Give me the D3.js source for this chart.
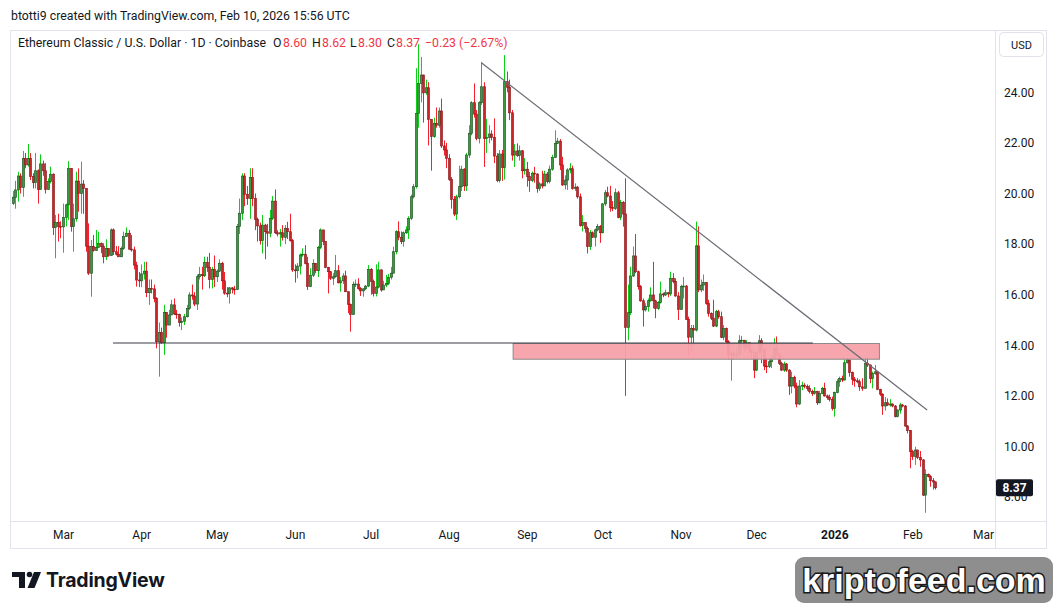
<!DOCTYPE html>
<html>
<head>
<meta charset="utf-8">
<script src="https://cdn.jsdelivr.net/npm/d3@7"></script>
<style>
body { margin: 0; background: #ffffff; }
svg text { font-family: Roboto, "Liberation Sans", sans-serif; }
</style>
</head>
<body>
<div id="chart"></div>
<script>
// ETC/USD daily candles (Coinbase).
// first candle is 2025-02-09, one candle per day, last is 2026-02-10
var firstDay = Date.UTC(2025, 1, 9);
var firstOpen = 19.6;

var closes = [
  19.85,
  20.14, 20.69, 20.24, 21.39, 21.13, 21.39, 20.67, 20.43, 20.9, 20.16, 21.17, 20.9, 20.16, 20.47, 20.76, 18.66, 18.86, 18.7, 18.68, 19.05, 19.55, 20.99, 18.69, 19.0, 20.49, 20.0, 20.37, 20.2, 17.92, 16.85, 17.9, 17.75, 17.87, 18.03, 17.9, 17.5, 17.83, 17.55, 18.56, 17.7, 17.6, 17.5, 17.83, 18.3, 18.43, 17.8, 17.77,
  17.17, 16.58, 16.55, 16.82, 16.93, 16.08, 16.25, 16.23, 15.85, 14.14, 14.5, 14.1, 15.3, 14.8, 15.2, 15.6, 15.24, 15.22, 14.9, 14.95, 15.13, 15.46, 15.99, 15.95, 15.63, 16.71, 16.8, 16.75, 17.28, 17.08, 16.6, 17.0, 16.71, 16.93, 17.24, 16.55, 16.06, 16.05, 16.27, 16.22, 16.2, 18.69, 19.22, 20.69, 19.97, 19.8, 20.64,
  19.8, 18.98, 18.72, 18.14, 18.75, 18.49, 18.43, 19.02, 19.7, 18.45, 18.4, 18.45, 18.27, 18.62, 18.49, 18.14, 16.98, 16.95, 17.13, 17.57, 17.6, 17.24, 16.32, 16.77, 17.24, 16.95, 17.87, 18.56, 18.1, 17.08, 16.91, 16.65, 16.71, 16.95, 16.47, 16.55, 16.74, 16.12, 15.62, 15.22, 16.41, 16.42, 16.25, 16.15, 16.23, 16.34, 17.0, 16.52,
  16.05, 16.3, 16.98, 16.19, 16.38, 16.45, 16.69, 16.85, 17.7, 18.49, 18.27, 18.1, 18.45, 18.56, 19.02, 19.87, 20.27, 23.17, 24.35, 24.68, 23.98, 24.18, 22.93, 22.25, 22.77, 22.7, 23.26, 21.88, 21.72, 21.39, 20.56, 19.77, 19.19, 19.87, 20.27, 20.96, 20.3, 21.52, 22.38, 23.59, 23.14, 22.17, 23.59, 24.22, 22.18, 22.22, 22.35, 22.22,
  21.48, 20.51, 21.56, 21.03, 24.42, 24.2, 23.19, 21.52, 21.68, 21.5, 21.69, 20.9, 20.96, 20.67, 20.51, 20.8, 20.77, 20.2, 20.38, 20.3, 20.77, 20.47, 20.96, 21.43, 21.98, 22.07, 21.13, 20.34, 20.53, 20.93, 20.98, 20.2, 20.25, 19.87, 18.73, 18.85, 18.62, 17.9, 18.45, 18.27, 18.56, 18.69, 18.45, 19.59, 20.03, 19.9, 19.45,
  19.41, 20.03, 19.06, 19.64, 19.19, 14.71, 15.29, 16.74, 17.53, 16.91, 16.32, 15.76, 15.4, 15.53, 15.76, 15.99, 15.76, 15.46, 15.69, 16.03, 15.99, 16.08, 16.03, 16.65, 16.52, 15.95, 15.42, 16.32, 16.34, 15.03, 14.32, 14.67, 14.6, 17.93, 16.19, 16.38, 16.48, 15.66, 15.26, 15.07, 14.76, 15.33, 15.13, 14.32, 14.67, 14.14, 13.62,
  13.68, 13.62, 13.66, 14.18, 14.2, 13.88, 14.1, 13.79, 13.71, 13.02, 13.71, 14.18, 13.81, 13.18, 13.16, 13.35, 13.48, 13.88, 13.66, 13.29, 13.02, 13.26, 13.02, 12.39, 12.73, 12.39, 11.68, 12.39, 12.42, 12.38, 12.3, 12.17, 12.1, 12.17, 11.73, 12.1, 12.3, 12.0, 11.94, 11.86, 11.51, 12.13, 12.56, 12.69, 12.63, 13.31, 13.42, 12.92,
  12.66, 12.6, 12.56, 12.36, 12.3, 13.29, 13.22, 12.69, 12.89, 12.95, 12.26, 12.07, 11.6, 11.73, 11.64, 11.68, 11.6, 11.18, 11.44, 11.64, 11.6, 10.81, 10.63, 9.8, 9.6, 9.86, 9.57, 9.47, 8.08, 8.9, 8.81, 8.65, 8.6, 8.37
];

var highs = [
  20.1,
  20.5, 20.86, 20.8, 21.68, 21.6, 21.96, 21.6, 20.8, 21.6, 20.95, 21.55, 21.3, 21.2, 20.6, 21.06, 20.8, 19.15, 19.2, 18.9, 19.6, 19.6, 21.28, 21.0, 19.6, 20.86, 20.99, 21.26, 20.53, 20.2, 18.82, 18.16, 18.36, 18.56, 18.49, 18.06, 18.03, 18.19, 17.83, 18.62, 18.62, 17.92, 17.92, 17.9, 18.49, 18.66, 18.56, 18.36,
  17.9, 17.3, 16.9, 17.2, 17.3, 17.3, 16.6, 16.6, 16.4, 15.9, 14.9, 14.7, 15.6, 15.3, 15.4, 15.8, 15.85, 15.4, 15.25, 15.1, 15.24, 15.6, 16.1, 16.4, 16.1, 16.8, 17.1, 17.1, 17.5, 17.5, 17.65, 17.1, 17.55, 17.0, 17.4, 17.3, 16.9, 16.3, 16.3, 16.3, 16.35, 18.8, 19.8, 20.8, 20.8, 20.3, 21.0,
  21.0, 20.0, 19.05, 18.85, 19.15, 18.8, 18.8, 19.35, 19.9, 20.16, 18.55, 18.6, 18.75, 18.75, 18.88, 19.2, 18.2, 17.2, 17.25, 17.63, 17.83, 17.96, 17.5, 17.05, 17.4, 17.25, 17.93, 18.62, 18.56, 18.1, 17.1, 16.93, 16.85, 17.57, 17.17, 16.7, 16.85, 16.95, 16.12, 15.65, 16.52, 16.6, 16.65, 16.3, 16.25, 16.38, 17.17, 17.05,
  16.6, 17.2, 17.3, 17.0, 16.55, 16.78, 16.82, 17.1, 17.9, 18.55, 18.9, 18.5, 18.5, 18.7, 19.1, 19.95, 20.38, 24.95, 25.9, 25.4, 24.7, 24.5, 24.4, 22.6, 23.0, 23.4, 23.4, 23.75, 22.1, 22.0, 21.55, 20.65, 19.9, 19.95, 21.1, 21.1, 21.0, 21.6, 22.7, 23.65, 24.35, 23.3, 23.65, 25.2, 24.4, 22.95, 22.7, 22.5,
  22.97, 21.6, 21.72, 21.72, 25.47, 24.82, 24.5, 23.3, 21.95, 21.98, 21.9, 21.72, 21.4, 21.25, 20.85, 20.87, 21.05, 20.8, 20.45, 20.9, 20.9, 20.85, 21.1, 21.53, 22.5, 22.2, 22.15, 21.45, 20.72, 21.0, 21.2, 21.1, 20.4, 20.3, 20.0, 19.15, 18.85, 18.7, 18.56, 18.5, 18.62, 18.8, 18.75, 19.62, 20.14, 20.27, 20.3,
  19.7, 20.2, 20.1, 19.75, 19.7, 20.6, 16.4, 17.1, 17.9, 18.4, 16.95, 16.38, 15.85, 15.66, 15.85, 16.29, 17.3, 15.8, 15.75, 16.52, 16.08, 16.2, 16.1, 16.91, 16.85, 16.65, 16.1, 16.4, 16.7, 16.38, 15.13, 14.8, 14.8, 18.89, 18.7, 16.6, 16.8, 16.5, 15.8, 15.3, 15.8, 15.4, 15.4, 15.33, 14.8, 14.7, 14.2,
  13.75, 13.8, 13.9, 14.4, 14.37, 14.21, 14.2, 14.0, 13.84, 13.75, 13.79, 14.4, 14.28, 13.88, 13.48, 13.5, 13.6, 14.28, 14.35, 13.7, 13.35, 13.35, 13.3, 13.05, 12.96, 12.8, 12.52, 12.63, 12.56, 12.5, 12.45, 12.42, 12.25, 12.35, 12.2, 12.2, 12.36, 12.52, 12.05, 12.05, 11.97, 12.17, 12.66, 12.76, 12.8, 13.44, 13.5, 13.44,
  12.96, 12.75, 12.7, 12.65, 12.7, 13.5, 13.55, 13.25, 12.96, 13.22, 12.96, 12.28, 12.1, 11.95, 11.9, 11.87, 11.7, 11.64, 11.47, 11.73, 11.68, 11.64, 10.85, 10.65, 9.87, 9.99, 9.87, 9.82, 9.5, 9.1, 8.93, 8.87, 8.75, 8.62
];

var lows = [
  19.55,
  19.4, 19.68, 20.0, 19.87, 21.0, 21.06, 20.53, 20.2, 20.2, 19.6, 20.2, 20.7, 20.0, 20.15, 20.4, 18.36, 17.44, 18.1, 18.23, 17.66, 18.7, 18.95, 18.49, 17.7, 18.89, 19.28, 19.2, 19.2, 17.7, 16.78, 15.92, 17.7, 17.77, 17.9, 17.64, 17.24, 17.37, 17.5, 17.64, 17.57, 17.55, 17.5, 17.57, 17.77, 18.29, 17.79, 17.7,
  17.0, 16.32, 16.3, 16.3, 16.6, 15.9, 15.6, 16.05, 15.7, 13.88, 12.76, 14.05, 13.62, 14.3, 14.8, 15.2, 15.2, 15.05, 14.74, 14.6, 14.8, 15.1, 15.4, 15.8, 15.55, 15.4, 16.6, 16.2, 16.7, 16.9, 16.25, 16.25, 16.3, 16.5, 16.9, 16.2, 16.0, 15.9, 15.65, 16.05, 16.0, 16.2, 18.4, 18.95, 19.5, 19.55, 19.0,
  19.5, 18.55, 18.1, 17.98, 17.63, 17.4, 17.9, 18.27, 18.95, 18.4, 18.3, 17.9, 18.14, 18.0, 18.2, 18.1, 16.9, 16.48, 16.65, 16.8, 17.5, 17.2, 16.19, 16.3, 16.7, 16.85, 16.7, 17.8, 17.96, 17.05, 16.05, 16.58, 16.38, 16.67, 16.45, 16.12, 16.42, 16.1, 15.27, 14.54, 15.2, 16.3, 16.2, 15.95, 15.92, 16.18, 16.3, 16.0,
  15.93, 15.93, 16.25, 16.12, 16.19, 16.3, 16.38, 16.6, 16.9, 17.6, 18.15, 18.0, 17.9, 18.4, 18.2, 18.95, 19.8, 20.2, 22.6, 23.6, 22.8, 23.9, 21.9, 20.9, 22.2, 22.6, 22.6, 21.8, 21.5, 21.0, 20.5, 19.4, 19.1, 18.95, 19.8, 20.1, 20.1, 20.1, 21.4, 22.3, 23.0, 22.1, 21.98, 23.5, 21.05, 21.6, 21.98, 22.1,
  21.2, 20.45, 20.43, 20.5, 20.55, 24.0, 22.9, 21.3, 21.05, 21.45, 21.3, 20.6, 20.75, 20.27, 20.07, 20.45, 20.43, 20.03, 20.1, 20.2, 20.3, 20.4, 20.4, 20.9, 21.4, 21.95, 20.93, 20.3, 20.16, 20.14, 20.8, 20.15, 20.1, 19.8, 18.69, 18.5, 18.45, 17.63, 17.77, 18.25, 17.9, 18.5, 18.05, 18.42, 19.5, 19.85, 19.28,
  19.3, 19.35, 19.02, 18.95, 18.69, 12.0, 14.2, 15.2, 16.7, 16.85, 16.2, 15.72, 14.74, 15.33, 15.33, 15.72, 15.46, 15.07, 15.4, 15.65, 15.9, 15.95, 15.9, 15.95, 16.45, 15.92, 15.0, 15.4, 15.85, 15.0, 13.6, 13.7, 14.0, 14.55, 16.1, 16.1, 16.15, 15.6, 15.13, 15.0, 14.72, 14.72, 15.05, 14.28, 14.2, 14.05, 13.45,
  12.6, 13.45, 13.5, 13.58, 13.7, 13.75, 13.85, 13.68, 13.45, 12.7, 12.98, 13.68, 13.29, 13.02, 12.9, 13.1, 13.1, 13.45, 13.55, 13.22, 12.98, 12.95, 12.95, 12.04, 12.1, 12.3, 11.55, 11.64, 12.23, 12.3, 12.2, 12.1, 12.0, 12.05, 11.64, 11.7, 12.07, 11.97, 11.85, 11.78, 11.42, 11.18, 12.1, 12.36, 12.55, 12.6, 13.28, 12.76,
  12.43, 12.36, 12.5, 12.2, 12.2, 12.28, 13.15, 12.5, 12.3, 12.83, 12.23, 12.0, 11.25, 11.42, 11.6, 11.58, 11.55, 11.15, 11.15, 11.3, 11.55, 10.78, 10.52, 9.14, 9.47, 9.27, 9.5, 9.2, 8.04, 7.38, 8.78, 8.41, 8.3, 8.3
];

// axis labels
var priceTicks = [8, 10, 12, 14, 16, 18, 20, 22, 24];
var monthTicks = ["2025-03-01", "2025-04-01", "2025-05-01", "2025-06-01", "2025-07-01", "2025-08-01",
                  "2025-09-01", "2025-10-01", "2025-11-01", "2025-12-01", "2026-01-01", "2026-02-01", "2026-03-01"];
var monthLabels = ["Mar", "Apr", "May", "Jun", "Jul", "Aug", "Sep", "Oct", "Nov", "Dec", "2026", "Feb", "Mar"];

// drawings on the chart
var supportLine = [{ date: "2025-03-20T20:00Z", price: 14.09 }, { date: "2025-12-23T12:00Z", price: 14.09 }];
var zone = [{ date: "2025-08-26T14:00Z", price: 14.07 }, { date: "2026-01-18T22:00Z", price: 13.45 }];
var trendLine = [{ date: "2025-08-14T00:00Z", price: 25.17 }, { date: "2026-02-06T20:00Z", price: 11.44 }];

var lastPrice = 8.37;

var width = 1057, height = 609;
var plot = { left: 10, top: 30, right: 995, bottom: 521 };

var svg = d3.select("#chart")
    .append("svg")
    .attr("width", width)
    .attr("height", height);

svg.append("rect").attr("width", width).attr("height", height).attr("fill", "#ffffff");

var x = d3.scaleUtc()
    .domain([new Date("2025-03-01T00:00Z"), new Date("2026-03-01T00:00Z")])
    .range([63, 983]);

var y = d3.scaleLinear()
    .domain([8, 24])
    .range([497.1, 92.3]);

var candles = closes.map(function(c, i) {
    var o = i === 0 ? firstOpen : closes[i - 1];
    return {
        date: new Date(firstDay + i * 864e5),
        o: o,
        c: c,
        h: Math.max(highs[i], o, c),
        l: Math.min(lows[i], o, c)
    };
});

// panel frame
svg.append("rect")
    .attr("x", 10.5).attr("y", 30.5)
    .attr("width", 1036).attr("height", 518)
    .attr("fill", "none").attr("stroke", "#e0e3eb");
svg.append("line")
    .attr("x1", 10).attr("x2", 1047).attr("y1", plot.bottom + 0.5).attr("y2", plot.bottom + 0.5)
    .attr("stroke", "#e0e3eb");
svg.append("line")
    .attr("x1", plot.right + 0.5).attr("x2", plot.right + 0.5).attr("y1", 30).attr("y2", 548)
    .attr("stroke", "#e0e3eb");

svg.append("clipPath").attr("id", "clip")
    .append("rect")
    .attr("x", plot.left + 1).attr("y", plot.top + 1)
    .attr("width", plot.right - plot.left - 1).attr("height", plot.bottom - plot.top - 1);

var g = svg.append("g").attr("clip-path", "url(#clip)");

// wicks
g.selectAll(".wick")
    .data(candles)
    .enter().append("line")
    .attr("class", "wick")
    .attr("x1", function(d) { return Math.round(x(d.date)) + 0.5; })
    .attr("x2", function(d) { return Math.round(x(d.date)) + 0.5; })
    .attr("y1", function(d) { return y(d.h); })
    .attr("y2", function(d) { return y(d.l); })
    .attr("stroke", function(d) { return d.c >= d.o ? "#0fcf1a" : "#f5222d"; })
    .attr("stroke-width", 1);

// bodies
g.selectAll(".body")
    .data(candles)
    .enter().append("rect")
    .attr("class", "body")
    .attr("x", function(d) { return Math.round(x(d.date)) - 0.45; })
    .attr("width", 1.9)
    .attr("y", function(d) { return y(Math.max(d.o, d.c)); })
    .attr("height", function(d) { return Math.max(0.8, Math.abs(y(d.o) - y(d.c))); })
    .attr("fill", function(d) { return d.c >= d.o ? "#3a9a3e" : "#c9262c"; })
    .attr("stroke", function(d) { return d.c >= d.o ? "#1d5a20" : "#951b1e"; })
    .attr("stroke-width", 0.7);

// resistance zone
g.append("rect")
    .attr("x", x(new Date(zone[0].date)))
    .attr("y", y(zone[0].price))
    .attr("width", x(new Date(zone[1].date)) - x(new Date(zone[0].date)))
    .attr("height", y(zone[1].price) - y(zone[0].price))
    .attr("fill", "#f7a1aa")
    .attr("fill-opacity", 0.95)
    .attr("stroke", "#8a8a8a")
    .attr("stroke-width", 1);

// horizontal support
g.append("line")
    .attr("x1", x(new Date(supportLine[0].date)))
    .attr("x2", x(new Date(supportLine[1].date)))
    .attr("y1", y(supportLine[0].price))
    .attr("y2", y(supportLine[1].price))
    .attr("stroke", "#3a3d45")
    .attr("stroke-width", 1.2);

// falling trend line
g.append("line")
    .attr("x1", x(new Date(trendLine[0].date)))
    .attr("x2", x(new Date(trendLine[1].date)))
    .attr("y1", y(trendLine[0].price))
    .attr("y2", y(trendLine[1].price))
    .attr("stroke", "#6a6d75")
    .attr("stroke-width", 1.2);

// price axis
var yAxis = svg.append("g")
    .attr("transform", "translate(1004,0)")
    .call(d3.axisRight(y).tickValues(priceTicks).tickFormat(d3.format(".2f")).tickSize(0).tickPadding(0));
yAxis.select(".domain").remove();
yAxis.selectAll("text")
    .attr("fill", "#131722")
    .style("font-size", "12px")
    .style("font-family", "Roboto, 'Liberation Sans', sans-serif");

// time axis
var xAxis = svg.append("g")
    .attr("transform", "translate(0,530)")
    .call(d3.axisBottom(x)
        .tickValues(monthTicks.map(function(d) { return new Date(d + "T00:00Z"); }))
        .tickFormat(function(d, i) { return monthLabels[i]; })
        .tickSize(0).tickPadding(0));
xAxis.select(".domain").remove();
xAxis.selectAll("text")
    .attr("fill", "#131722")
    .style("font-size", "12px")
    .style("font-weight", function(d, i) { return monthLabels[i] === "2026" ? "700" : "400"; })
    .style("font-family", "Roboto, 'Liberation Sans', sans-serif");

// USD box
svg.append("rect")
    .attr("x", 999.5).attr("y", 32.5).attr("width", 44).attr("height", 24).attr("rx", 4)
    .attr("fill", "#ffffff").attr("stroke", "#e0e3eb");
svg.append("text")
    .attr("x", 1021.5).attr("y", 48.5)
    .attr("text-anchor", "middle")
    .attr("fill", "#131722")
    .style("font-size", "11px")
    .text("USD");

// last price badge
var badgeY = y(lastPrice);
svg.append("rect")
    .attr("x", 996).attr("y", badgeY - 8.5).attr("width", 37).attr("height", 17).attr("rx", 2)
    .attr("fill", "#131722");
svg.append("text")
    .attr("x", 1014.5).attr("y", badgeY + 4.5)
    .attr("text-anchor", "middle")
    .attr("fill", "#ffffff")
    .style("font-size", "12px")
    .style("font-weight", "700")
    .text(lastPrice.toFixed(2));

// header
svg.append("text")
    .attr("x", 11).attr("y", 20)
    .attr("fill", "#131722")
    .style("font-size", "12.3px")
    .text("btotti9 created with TradingView.com, Feb 10, 2026 15:56 UTC");

var legend = [
    { x: 18, text: "Ethereum Classic / U.S. Dollar · 1D · Coinbase", color: "#131722" },
    { x: 273, text: "O", color: "#131722" }, { x: 283, text: "8.60", color: "#f23645" },
    { x: 312, text: "H", color: "#131722" }, { x: 322, text: "8.62", color: "#f23645" },
    { x: 350, text: "L", color: "#131722" }, { x: 358, text: "8.30", color: "#f23645" },
    { x: 387, text: "C", color: "#131722" }, { x: 396, text: "8.37", color: "#f23645" },
    { x: 425, text: "\u22120.23 (\u22122.67%)", color: "#f23645" }
];
svg.selectAll(".legend")
    .data(legend)
    .enter().append("text")
    .attr("class", "legend")
    .attr("x", function(d) { return d.x; })
    .attr("y", 47)
    .attr("fill", function(d) { return d.color; })
    .style("font-size", "12.3px")
    .text(function(d) { return d.text; });

// TradingView footer logo
var logo = svg.append("g").attr("fill", "#131722");
logo.append("path").attr("d", "M12,572 H25 V588 H19 V577 H12 Z");
logo.append("circle").attr("cx", 29.5).attr("cy", 574.5).attr("r", 2.8);
logo.append("path").attr("d", "M34,572 H41 L34.5,588 H27.5 Z");
svg.append("text")
    .attr("x", 46).attr("y", 587)
    .attr("fill", "#131722")
    .style("font-family", "Inter, Roboto, sans-serif")
    .style("font-size", "19.5px")
    .style("font-weight", "700")
    .style("letter-spacing", "-0.2px")
    .text("TradingView");

// watermark
svg.append("rect")
    .attr("x", 795).attr("y", 557).attr("width", 258).attr("height", 46).attr("rx", 9)
    .attr("fill", "#8e8e8e");
svg.append("text")
    .attr("x", 924).attr("y", 592)
    .attr("text-anchor", "middle")
    .attr("fill", "#ffffff")
    .attr("stroke", "#1a1a1a")
    .attr("stroke-width", 3)
    .attr("paint-order", "stroke")
    .style("font-family", "'Liberation Sans Narrow', 'Liberation Sans', sans-serif")
    .style("font-size", "34px")
    .style("font-weight", "700")
    .text("kriptofeed.com");
</script>
</body>
</html>
